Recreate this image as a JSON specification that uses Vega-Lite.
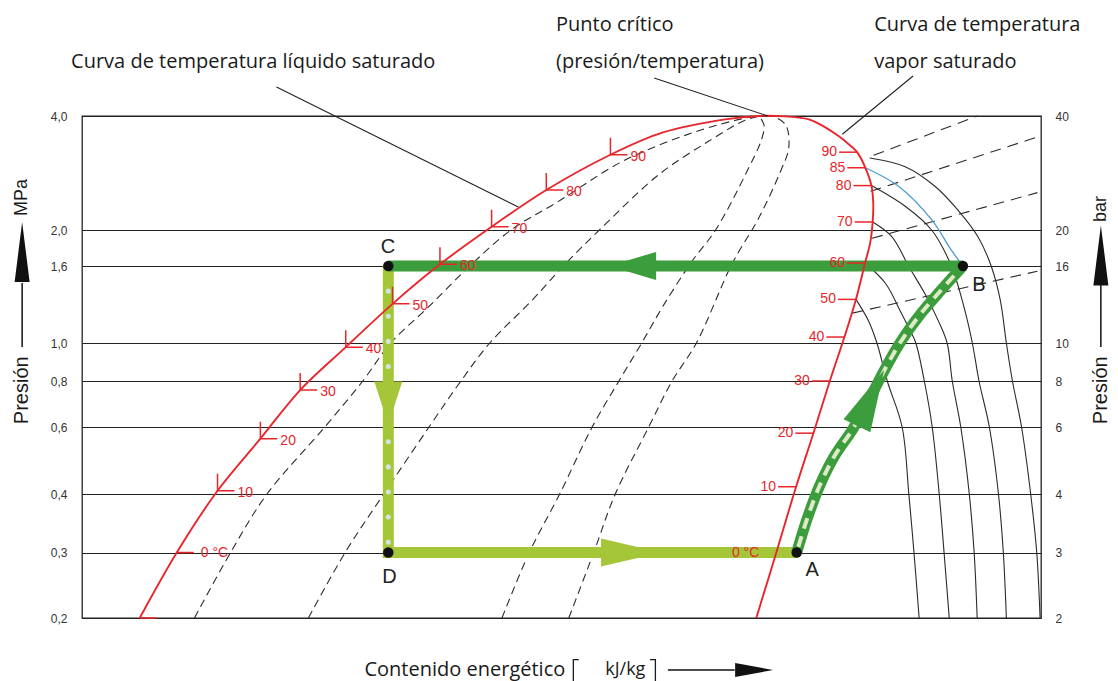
{
  "$schema": "https://vega.github.io/schema/vega-lite/v6.json",
  "width": 959,
  "height": 502,
  "autosize": {"type": "none"},
  "padding": {"left": 82, "top": 116, "right": 77, "bottom": 63},
  "background": "#ffffff",
  "config": {
    "view": {"stroke": "#222222", "strokeWidth": 1.3},
    "axis": {"grid": true, "gridColor": "#222222", "gridWidth": 1.2, "gridOpacity": 1, "ticks": false, "domain": false, "labelFont": "Liberation Sans", "labelFontSize": 12, "labelColor": "#333333", "labelOverlap": false, "labelFlush": false, "zindex": 1}
  },
  "datasets": {
    "dome": [
      {"h": 187.8, "p": 0.2}, {"h": 200, "p": 0.3}, {"h": 213.4, "p": 0.408}, {"h": 227.5, "p": 0.559}, {"h": 240.6, "p": 0.756}, {"h": 255.6, "p": 0.976}, {"h": 271, "p": 1.27}, {"h": 286.6, "p": 1.617}, {"h": 303.6, "p": 2.04}, {"h": 321.6, "p": 2.55}, {"h": 342.7, "p": 3.16}, {"h": 360, "p": 3.62}, {"h": 380.5, "p": 3.92}, {"h": 391.5, "p": 4.0}, {"h": 400, "p": 3.99}, {"h": 408, "p": 3.92}, {"h": 413, "p": 3.75}, {"h": 418, "p": 3.53}, {"h": 421.5, "p": 3.35}, {"h": 423.9, "p": 3.21}, {"h": 426.6, "p": 2.92}, {"h": 428.6, "p": 2.62}, {"h": 429.2, "p": 2.35}, {"h": 429, "p": 2.1}, {"h": 428.2, "p": 1.85}, {"h": 426.5, "p": 1.63}, {"h": 423.5, "p": 1.305}, {"h": 419.7, "p": 1.037}, {"h": 414.9, "p": 0.8}, {"h": 409.5, "p": 0.578}, {"h": 403.8, "p": 0.418}, {"h": 397.3, "p": 0.3}, {"h": 390.7, "p": 0.2}
    ],
    "qual": [
      {"id": "q1", "h": 205.8, "p": 0.2}, {"id": "q1", "h": 217.7, "p": 0.3}, {"id": "q1", "h": 229.7, "p": 0.4}, {"id": "q1", "h": 248.7, "p": 0.6}, {"id": "q1", "h": 261.2, "p": 0.8}, {"id": "q1", "h": 270.4, "p": 1.0}, {"id": "q1", "h": 283, "p": 1.25}, {"id": "q1", "h": 296.4, "p": 1.6}, {"id": "q1", "h": 310, "p": 2.0}, {"id": "q1", "h": 325.6, "p": 2.38}, {"id": "q1", "h": 346.5, "p": 3.03}, {"id": "q1", "h": 369.6, "p": 3.61}, {"id": "q1", "h": 387.1, "p": 3.95}, {"id": "q1", "h": 392, "p": 4.0},
      {"id": "q2", "h": 243.3, "p": 0.2}, {"id": "q2", "h": 255.4, "p": 0.3}, {"id": "q2", "h": 268.1, "p": 0.4}, {"id": "q2", "h": 283, "p": 0.6}, {"id": "q2", "h": 293.5, "p": 0.8}, {"id": "q2", "h": 303, "p": 1.0}, {"id": "q2", "h": 317, "p": 1.3}, {"id": "q2", "h": 327.8, "p": 1.62}, {"id": "q2", "h": 339.9, "p": 2.03}, {"id": "q2", "h": 358.6, "p": 2.8}, {"id": "q2", "h": 375, "p": 3.43}, {"id": "q2", "h": 387, "p": 3.9}, {"id": "q2", "h": 392, "p": 4.0},
      {"id": "q3", "h": 307, "p": 0.2}, {"id": "q3", "h": 316, "p": 0.3}, {"id": "q3", "h": 326, "p": 0.4}, {"id": "q3", "h": 336.7, "p": 0.6}, {"id": "q3", "h": 345.5, "p": 0.8}, {"id": "q3", "h": 353, "p": 1.0}, {"id": "q3", "h": 360.2, "p": 1.26}, {"id": "q3", "h": 369.6, "p": 1.65}, {"id": "q3", "h": 377.3, "p": 2.0}, {"id": "q3", "h": 387.1, "p": 2.8}, {"id": "q3", "h": 392.6, "p": 3.5}, {"id": "q3", "h": 393.2, "p": 3.8}, {"id": "q3", "h": 391.5, "p": 4.0},
      {"id": "q4", "h": 329, "p": 0.2}, {"id": "q4", "h": 337.2, "p": 0.3}, {"id": "q4", "h": 344.3, "p": 0.4}, {"id": "q4", "h": 355.3, "p": 0.6}, {"id": "q4", "h": 363, "p": 0.8}, {"id": "q4", "h": 371, "p": 1.0}, {"id": "q4", "h": 382.7, "p": 1.62}, {"id": "q4", "h": 391.5, "p": 2.15}, {"id": "q4", "h": 398.7, "p": 2.86}, {"id": "q4", "h": 401.4, "p": 3.3}, {"id": "q4", "h": 400.3, "p": 3.8}, {"id": "q4", "h": 396, "p": 4.0}
    ],
    "iso": [
      {"id": "t50", "h": 423.5, "p": 1.305}, {"id": "t50", "h": 427.5, "p": 1.15}, {"id": "t50", "h": 430.4, "p": 1.0}, {"id": "t50", "h": 433.8, "p": 0.8}, {"id": "t50", "h": 438.7, "p": 0.6}, {"id": "t50", "h": 440.9, "p": 0.4}, {"id": "t50", "h": 442.6, "p": 0.3}, {"id": "t50", "h": 444.3, "p": 0.2},
      {"id": "t60", "h": 426.5, "p": 1.63}, {"id": "t60", "h": 433.2, "p": 1.44}, {"id": "t60", "h": 438, "p": 1.22}, {"id": "t60", "h": 441.3, "p": 1.08}, {"id": "t60", "h": 443.2, "p": 1.0}, {"id": "t60", "h": 446, "p": 0.8}, {"id": "t60", "h": 448.6, "p": 0.6}, {"id": "t60", "h": 450.9, "p": 0.4}, {"id": "t60", "h": 452.5, "p": 0.3}, {"id": "t60", "h": 454.2, "p": 0.2},
      {"id": "t70", "h": 429, "p": 2.1}, {"id": "t70", "h": 435.3, "p": 1.92}, {"id": "t70", "h": 440.8, "p": 1.6}, {"id": "t70", "h": 446.2, "p": 1.35}, {"id": "t70", "h": 450.5, "p": 1.15}, {"id": "t70", "h": 453.5, "p": 1.0}, {"id": "t70", "h": 455.2, "p": 0.8}, {"id": "t70", "h": 458, "p": 0.6}, {"id": "t70", "h": 460.8, "p": 0.4}, {"id": "t70", "h": 462.4, "p": 0.3}, {"id": "t70", "h": 463.4, "p": 0.2},
      {"id": "t80", "h": 428.6, "p": 2.62}, {"id": "t80", "h": 439.7, "p": 2.31}, {"id": "t80", "h": 448.4, "p": 2.0}, {"id": "t80", "h": 454.9, "p": 1.6}, {"id": "t80", "h": 459, "p": 1.25}, {"id": "t80", "h": 461.8, "p": 1.0}, {"id": "t80", "h": 464, "p": 0.8}, {"id": "t80", "h": 467.4, "p": 0.6}, {"id": "t80", "h": 470.4, "p": 0.4}, {"id": "t80", "h": 472, "p": 0.3}, {"id": "t80", "h": 473, "p": 0.2},
      {"id": "t90", "h": 428, "p": 3.1}, {"id": "t90", "h": 439.7, "p": 2.94}, {"id": "t90", "h": 449.5, "p": 2.61}, {"id": "t90", "h": 457, "p": 2.26}, {"id": "t90", "h": 463.6, "p": 1.92}, {"id": "t90", "h": 468, "p": 1.6}, {"id": "t90", "h": 471, "p": 1.3}, {"id": "t90", "h": 473, "p": 1.0}, {"id": "t90", "h": 475, "p": 0.8}, {"id": "t90", "h": 478, "p": 0.6}, {"id": "t90", "h": 481, "p": 0.4}, {"id": "t90", "h": 483, "p": 0.3}, {"id": "t90", "h": 484.1, "p": 0.2}
    ],
    "isen": [
      {"id": "s0", "h": 429.3, "p": 3.15}, {"id": "s0", "h": 463.5, "p": 4.0},
      {"id": "s1", "h": 428.3, "p": 2.53}, {"id": "s1", "h": 483.2, "p": 3.52},
      {"id": "s2", "h": 428.8, "p": 1.9}, {"id": "s2", "h": 483.2, "p": 2.51},
      {"id": "s3", "h": 422.3, "p": 1.2}, {"id": "s3", "h": 483.2, "p": 1.55}
    ],
    "blue": [
      {"h": 426.6, "p": 2.92}, {"h": 437.5, "p": 2.61}, {"h": 448.4, "p": 2.13}, {"h": 454.9, "p": 1.765}, {"h": 458.7, "p": 1.6}
    ],
    "ylw": [
      {"h": 269.6, "p": 1.6}, {"h": 269.6, "p": 0.3}, {"h": 404, "p": 0.3}
    ],
    "cd": [
      {"h": 269.6, "p": 1.6}, {"h": 269.6, "p": 0.3}
    ],
    "bc": [
      {"h": 458.7, "p": 1.6}, {"h": 269.6, "p": 1.6}
    ],
    "ab": [
      {"h": 404, "p": 0.3}, {"h": 407.3, "p": 0.352}, {"h": 411.4, "p": 0.418}, {"h": 416.3, "p": 0.501}, {"h": 422.3, "p": 0.59}, {"h": 426.6, "p": 0.681}, {"h": 431, "p": 0.8}, {"h": 435.3, "p": 0.923}, {"h": 439.7, "p": 1.05}, {"h": 445, "p": 1.2}, {"h": 451.5, "p": 1.38}, {"h": 458.7, "p": 1.6}
    ],
    "arrBC": [{"h": 350, "p": 1.6}],
    "arrDA": [{"h": 349.5, "p": 0.3}],
    "arrCD": [{"h": 269.6, "p": 0.697}],
    "arrAB": [{"h": 428.3, "p": 0.72}],
    "tickL": [
      {"h": 213.4, "p": 0.408, "t": "10"}, {"h": 227.5, "p": 0.559, "t": "20"}, {"h": 240.6, "p": 0.756, "t": "30"}, {"h": 255.6, "p": 0.976, "t": "40"}, {"h": 271, "p": 1.27, "t": "50"}, {"h": 286.6, "p": 1.617, "t": "60"}, {"h": 303.6, "p": 2.04, "t": "70"}, {"h": 321.6, "p": 2.55, "t": "80"}, {"h": 342.7, "p": 3.16, "t": "90"}
    ],
    "tickL0": [
      {"h": 200, "p": 0.3, "t": "0 °C"}, {"h": 187.8, "p": 0.2, "t": ""}
    ],
    "tickV": [
      {"h": 423.9, "p": 3.21, "t": "90"}, {"h": 426.6, "p": 2.92, "t": "85"}, {"h": 428.6, "p": 2.62, "t": "80"}, {"h": 429, "p": 2.1, "t": "70"}, {"h": 426.5, "p": 1.63, "t": "60"}, {"h": 423.5, "p": 1.305, "t": "50"}, {"h": 419.7, "p": 1.037, "t": "40"}, {"h": 414.9, "p": 0.8, "t": "30"}, {"h": 409.5, "p": 0.578, "t": "20"}, {"h": 403.8, "p": 0.418, "t": "10"}
    ],
    "labV0": [{"h": 397.3, "p": 0.3, "t": "0 °C"}],
    "leaders": [
      {"h": 232.8, "p": 4.77, "h2": 312.4, "p2": 2.3},
      {"h": 357.1, "p": 5.04, "h2": 394.5, "p2": 4.0},
      {"h": 442.3, "p": 5.1, "h2": 419, "p2": 3.58}
    ],
    "annot": [
      {"h": 165.2, "p": 5.555, "t": "Curva de temperatura líquido saturado"},
      {"h": 324.8, "p": 6.955, "t": "Punto crítico"},
      {"h": 324.8, "p": 5.555, "t": "(presión/temperatura)"},
      {"h": 429.5, "p": 6.955, "t": "Curva de temperatura"},
      {"h": 429.5, "p": 5.555, "t": "vapor saturado"}
    ],
    "sideP": [
      {"h": 149.1, "p": 0.755, "t": "Presión"}, {"h": 504.1, "p": 0.755, "t": "Presión"}
    ],
    "sideU": [
      {"h": 149.1, "p": 2.437, "t": "MPa"}, {"h": 504.1, "p": 2.272, "t": "bar"}
    ],
    "sidel": [
      {"h": 149.1, "p": 0.977, "h2": 149.1, "p2": 1.442},
      {"h": 504.1, "p": 0.977, "h2": 504.1, "p2": 1.442},
      {"h": 361.6, "p": 0.145, "h2": 383.6, "p2": 0.145}
    ],
    "headUp": [{"h": 149.1, "p": 1.745}, {"h": 504.1, "p": 1.707}],
    "headRight": [{"h": 390, "p": 0.145}],
    "xtitle": [{"h": 294.8, "p": 0.145, "t": "Contenido energético"}],
    "xunit": [{"h": 347.6, "p": 0.145, "t": "kJ/kg"}],
    "brL": [{"h": 330.5, "p": 0.1435}],
    "brR": [{"h": 357.5, "p": 0.1435}],
    "ptlab": [
      {"h": 409.1, "p": 0.269, "t": "A"}, {"h": 464, "p": 1.425, "t": "B"}, {"h": 269.5, "p": 1.803, "t": "C"}, {"h": 270, "p": 0.258, "t": "D"}
    ],
    "pts": [
      {"h": 404, "p": 0.3}, {"h": 458.7, "p": 1.6}, {"h": 269.6, "p": 1.6}, {"h": 269.6, "p": 0.3}
    ]
  },
  "layer": [
    {
      "encoding": {
        "x": {"field": "h", "type": "quantitative", "scale": {"domain": [168.8, 484.4], "nice": false, "zero": false}, "axis": {"values": [200, 240, 280, 320, 360, 400, 440], "title": null, "labelPadding": 13, "labelFontSize": 13}},
        "y": {"field": "p", "type": "quantitative", "scale": {"type": "log", "domain": [0.2, 0.3, 0.4, 0.6, 0.8, 1, 1.6, 2, 4], "range": [502, 436.5, 378, 311, 265, 227, 150, 114, 0], "nice": false, "zero": false}, "axis": {"values": [0.2, 0.3, 0.4, 0.6, 0.8, 1, 1.6, 2, 4], "title": null, "labelExpr": "replace(format(datum.value, '.1f'), '.', ',')", "labelPadding": 15}}
      },
      "layer": [
        {"data": {"name": "qual"}, "mark": {"type": "line", "interpolate": "catmull-rom", "color": "#2b2b2b", "strokeWidth": 1.1, "strokeDash": [8, 5]}, "encoding": {"detail": {"field": "id"}, "order": {"value": null}}},
        {"data": {"name": "isen"}, "mark": {"type": "line", "color": "#2b2b2b", "strokeWidth": 1.1, "strokeDash": [11, 7]}, "encoding": {"detail": {"field": "id"}, "order": {"value": null}}},
        {"data": {"name": "iso"}, "mark": {"type": "line", "interpolate": "catmull-rom", "color": "#2b2b2b", "strokeWidth": 1.1}, "encoding": {"detail": {"field": "id"}, "order": {"value": null}}},
        {"data": {"name": "blue"}, "mark": {"type": "line", "interpolate": "catmull-rom", "color": "#4a9bd6", "strokeWidth": 1.3}, "encoding": {"order": {"value": null}}},
        {"data": {"name": "ylw"}, "mark": {"type": "line", "color": "#a6c63a", "strokeWidth": 11, "strokeCap": "butt", "strokeJoin": "miter"}, "encoding": {"order": {"value": null}}},
        {"data": {"name": "cd"}, "mark": {"type": "line", "color": "#cfe4e6", "strokeWidth": 5, "strokeCap": "round", "strokeDash": [0.1, 25]}, "encoding": {"order": {"value": null}}},
        {"data": {"name": "bc"}, "mark": {"type": "line", "color": "#3c9d3c", "strokeWidth": 11, "strokeCap": "butt"}, "encoding": {"order": {"value": null}}},
        {"data": {"name": "ab"}, "mark": {"type": "line", "interpolate": "catmull-rom", "color": "#3c9d3c", "strokeWidth": 11, "strokeCap": "butt"}, "encoding": {"order": {"value": null}}},
        {"data": {"name": "ab"}, "mark": {"type": "line", "interpolate": "catmull-rom", "color": "#dfe9c8", "strokeWidth": 4, "strokeCap": "butt", "strokeDash": [11, 8], "strokeDashOffset": -6}, "encoding": {"order": {"value": null}}},
        {"data": {"name": "arrBC"}, "mark": {"type": "point", "shape": "M-1,0L1,-0.6L1,0.6Z", "size": 2209, "filled": true, "color": "#3c9d3c", "opacity": 1, "strokeWidth": 0}},
        {"data": {"name": "arrDA"}, "mark": {"type": "point", "shape": "M1,0L-1,-0.47L-1,0.47Z", "size": 3600, "filled": true, "color": "#a6c63a", "opacity": 1, "strokeWidth": 0}},
        {"data": {"name": "arrCD"}, "mark": {"type": "point", "shape": "M0,1L-0.65,-1L0.65,-1Z", "size": 1849, "filled": true, "color": "#a6c63a", "opacity": 1, "strokeWidth": 0}},
        {"data": {"name": "arrAB"}, "mark": {"type": "point", "shape": "M0,-1L-0.48,1L0.48,1Z", "size": 3844, "angle": 26, "filled": true, "color": "#3c9d3c", "opacity": 1, "strokeWidth": 0}},
        {"data": {"name": "dome"}, "mark": {"type": "line", "interpolate": "catmull-rom", "color": "#e8262c", "strokeWidth": 1.9}, "encoding": {"order": {"value": null}}},
        {"data": {"name": "tickL"}, "mark": {"type": "point", "shape": "M0,-1L0,0L1,0", "size": 1156, "filled": false, "stroke": "#e8262c", "strokeWidth": 1.5, "opacity": 1}},
        {"data": {"name": "tickL0"}, "mark": {"type": "point", "shape": "M0,0L1,0", "size": 1156, "filled": false, "stroke": "#e8262c", "strokeWidth": 1.5, "opacity": 1}},
        {"data": {"name": "tickV"}, "mark": {"type": "point", "shape": "M0,0L-1,0", "size": 1296, "filled": false, "stroke": "#e8262c", "strokeWidth": 1.5, "opacity": 1}},
        {"data": {"name": "tickL"}, "mark": {"type": "text", "align": "left", "baseline": "middle", "dx": 20, "dy": 2, "font": "Liberation Sans", "fontSize": 14, "color": "#e8262c"}, "encoding": {"text": {"field": "t"}}},
        {"data": {"name": "tickL0"}, "mark": {"type": "text", "align": "left", "baseline": "middle", "dx": 24, "dy": 0, "font": "Liberation Sans", "fontSize": 14, "color": "#e8262c"}, "encoding": {"text": {"field": "t"}}},
        {"data": {"name": "tickV"}, "mark": {"type": "text", "align": "right", "baseline": "middle", "dx": -20, "dy": 0, "font": "Liberation Sans", "fontSize": 14, "color": "#e8262c"}, "encoding": {"text": {"field": "t"}}},
        {"data": {"name": "labV0"}, "mark": {"type": "text", "align": "right", "baseline": "middle", "dx": -17, "dy": 0, "font": "Liberation Sans", "fontSize": 14, "color": "#e8262c"}, "encoding": {"text": {"field": "t"}}},
        {"data": {"name": "leaders"}, "mark": {"type": "rule", "color": "#222222", "strokeWidth": 1.1}, "encoding": {"x2": {"field": "h2"}, "y2": {"field": "p2"}}},
        {"data": {"name": "annot"}, "mark": {"type": "text", "align": "left", "baseline": "middle", "font": "Open Sans", "fontSize": 20, "color": "#1a1a1a"}, "encoding": {"text": {"field": "t"}}},
        {"data": {"name": "sideP"}, "mark": {"type": "text", "align": "center", "baseline": "middle", "angle": 270, "font": "Liberation Sans", "fontSize": 20, "color": "#1a1a1a"}, "encoding": {"text": {"field": "t"}}},
        {"data": {"name": "sideU"}, "mark": {"type": "text", "align": "center", "baseline": "middle", "angle": 270, "font": "Liberation Sans", "fontSize": 18, "color": "#1a1a1a"}, "encoding": {"text": {"field": "t"}}},
        {"data": {"name": "sidel"}, "mark": {"type": "rule", "color": "#111111", "strokeWidth": 1.5}, "encoding": {"x2": {"field": "h2"}, "y2": {"field": "p2"}}},
        {"data": {"name": "headUp"}, "mark": {"type": "point", "shape": "M0,-1L-0.25,1L0.25,1Z", "size": 3600, "filled": true, "color": "#111111", "opacity": 1, "strokeWidth": 0}},
        {"data": {"name": "headRight"}, "mark": {"type": "point", "shape": "M1,0L-1,-0.37L-1,0.37Z", "size": 1444, "filled": true, "color": "#111111", "opacity": 1, "strokeWidth": 0}},
        {"data": {"name": "xtitle"}, "mark": {"type": "text", "align": "center", "baseline": "middle", "font": "Open Sans", "fontSize": 20, "color": "#1a1a1a"}, "encoding": {"text": {"field": "t"}}},
        {"data": {"name": "xunit"}, "mark": {"type": "text", "align": "center", "baseline": "middle", "font": "Open Sans", "fontSize": 18, "color": "#1a1a1a"}, "encoding": {"text": {"field": "t"}}},
        {"data": {"name": "brL"}, "mark": {"type": "point", "shape": "M0.45,-1L0,-1L0,1", "size": 576, "filled": false, "stroke": "#1a1a1a", "strokeWidth": 1.3, "opacity": 1}},
        {"data": {"name": "brR"}, "mark": {"type": "point", "shape": "M-0.45,-1L0,-1L0,1", "size": 576, "filled": false, "stroke": "#1a1a1a", "strokeWidth": 1.3, "opacity": 1}},
        {"data": {"name": "ptlab"}, "mark": {"type": "text", "align": "center", "baseline": "middle", "font": "Liberation Sans", "fontSize": 20, "color": "#222222"}, "encoding": {"text": {"field": "t"}}}
      ]
    },
    {
      "data": {"name": "pts"},
      "mark": {"type": "point", "filled": true, "color": "#111111", "size": 110, "opacity": 1},
      "encoding": {
        "x": {"field": "h", "type": "quantitative", "scale": {"domain": [168.8, 484.4], "nice": false, "zero": false}, "axis": null},
        "y": {"field": "p", "type": "quantitative", "scale": {"type": "log", "domain": [0.2, 0.3, 0.4, 0.6, 0.8, 1, 1.6, 2, 4], "range": [502, 436.5, 378, 311, 265, 227, 150, 114, 0], "nice": false, "zero": false}, "axis": {"orient": "right", "values": [0.2, 0.3, 0.4, 0.6, 0.8, 1, 1.6, 2, 4], "title": null, "grid": false, "labelExpr": "format(datum.value * 10, 'd')", "labelPadding": 14, "labelAlign": "left"}}
      }
    }
  ],
  "resolve": {"axis": {"y": "independent"}}
}
